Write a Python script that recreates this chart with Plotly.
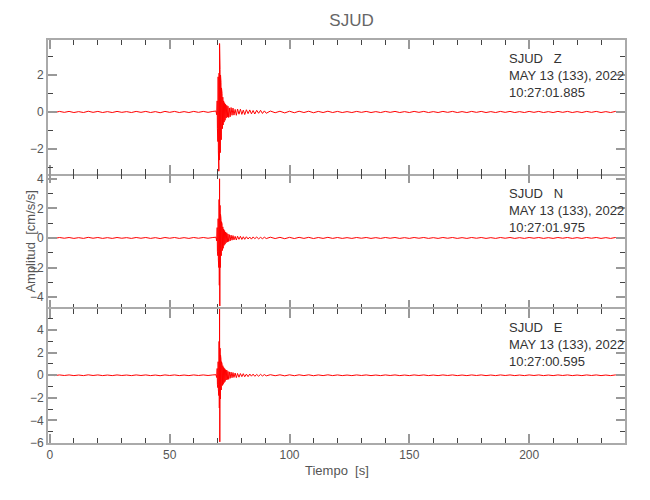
import plotly.graph_objects as go
from plotly.subplots import make_subplots

# ---- data ----
station = "SJUD"
components = ["Z", "N", "E"]
start_times = ["10:27:01.885", "10:27:01.975", "10:27:00.595"]
date_text = "MAY 13 (133), 2022"

t_pre = [0, 2, 4, 6, 8, 10, 12, 14, 16, 18, 20, 22, 24, 26, 28, 30, 32, 34,
         36, 38, 40, 42, 44, 46, 48, 50, 52, 54, 56, 58, 60, 62, 64, 66, 68]
noise_pre = [0.02, -0.03, 0.03, -0.02, 0.03, -0.03, 0.02, -0.03, 0.04, -0.02,
             0.03, -0.03, 0.02, -0.03, 0.03, -0.02, 0.02, -0.03, 0.03, -0.02,
             0.03, -0.03, 0.02, -0.04, 0.03, -0.02, 0.03, -0.03, 0.02, -0.03,
             0.03, -0.02, 0.03, -0.02, 0.03]

t_burst = [69.3, 69.6, 69.8, 69.9, 70.0, 70.1, 70.2, 70.3, 70.4, 70.5, 70.6,
           70.7, 70.8, 70.9, 71.0, 71.1, 71.2, 71.3, 71.4, 71.5, 71.6, 71.7,
           71.85, 72.0, 72.15, 72.3, 72.5, 72.7, 72.9, 73.1, 73.3, 73.55,
           73.8, 74.05, 74.3, 74.6, 74.9, 75.2, 75.6, 76.0, 76.4, 76.8, 77.3,
           77.8, 78.3, 78.9, 79.5, 80.1, 80.7, 81.3, 82.0, 82.7, 83.4, 84.1,
           84.8, 85.5, 86.3, 87.1, 87.9, 88.7, 89.5, 90.3]
z_burst = [0.05, -0.15, 0.6, -0.9, 1.4, -1.6, 1.9, -2.1, 2.0, -3.2,
           2.1, -2.6, 3.7, -2.5, 2.3, -2.2, 2.0, -1.9, 1.6, -1.5,
           1.3, -1.2, 1.0, -0.9, 0.8, -0.7, 0.6, -0.55, 0.5, -0.45,
           0.42, -0.33, 0.36, -0.28, 0.31, -0.3, 0.22, -0.26, 0.24, -0.18,
           0.21, -0.17, 0.14, -0.18, 0.16, -0.12, 0.15, -0.13, 0.1, -0.14,
           0.12, -0.09, 0.11, -0.1, 0.08, -0.11, 0.09, -0.07, 0.09, -0.08,
           0.06, -0.07]
n_burst = [0.05, -0.2, 0.7, -0.9, 1.1, -1.2, 1.3, -1.5, 1.6, -2.0,
           2.6, -3.2, 4.0, -4.6, 2.2, -2.0, 1.6, -1.5, 1.3, -1.2,
           1.1, -1.0, 0.95, -0.85, 0.75, -0.7, 0.6, -0.5, 0.5, -0.42,
           0.4, -0.32, 0.35, -0.28, 0.27, -0.24, 0.22, -0.2, 0.19, -0.15,
           0.16, -0.13, 0.11, -0.14, 0.12, -0.09, 0.11, -0.1, 0.08, -0.09,
           0.08, -0.07, 0.06, -0.08, 0.07, -0.05, 0.06, -0.06, 0.04, -0.05,
           0.05, -0.04]
e_burst = [0.05, -0.2, 0.6, -0.8, 1.0, -1.1, 1.2, -1.3, 1.5, -1.8,
           3.0, -2.9, 5.9, -5.9, 2.4, -2.1, 1.8, -1.6, 1.4, -1.3,
           1.2, -1.1, 1.0, -0.9, 0.85, -0.8, 0.7, -0.65, 0.6, -0.55,
           0.5, -0.42, 0.46, -0.38, 0.35, -0.36, 0.3, -0.27, 0.28, -0.22,
           0.24, -0.19, 0.2, -0.21, 0.16, -0.17, 0.15, -0.12, 0.14, -0.13,
           0.1, -0.12, 0.11, -0.08, 0.1, -0.09, 0.07, -0.08, 0.08, -0.06,
           0.06, -0.05]

t_post = [92, 94, 96, 98, 100, 102, 104, 106, 108, 110, 112, 114, 116, 118,
          120, 122, 124, 126, 128, 130, 132, 134, 136, 138, 140, 142, 144,
          146, 148, 150, 152, 154, 156, 158, 160, 162, 164, 166, 168, 170,
          172, 174, 176, 178, 180, 182, 184, 186, 188, 190, 192, 194, 196,
          198, 200, 202, 204, 206, 208, 210, 212, 214, 216, 218, 220, 222,
          224, 226, 228, 230, 232, 234, 236, 238, 240]
noise_post = [0.05, -0.04, 0.04, -0.05, 0.04, -0.04, 0.04, -0.03, 0.04, -0.04,
              0.03, -0.03, 0.04, -0.03, 0.03, -0.03, 0.02, -0.03, 0.03, -0.02,
              0.03, -0.03, 0.02, -0.03, 0.03, -0.02, 0.03, -0.03, 0.02, -0.03,
              0.03, -0.02, 0.03, -0.03, 0.02, -0.03, 0.03, -0.02, 0.03, -0.03,
              0.02, -0.03, 0.03, -0.02, 0.03, -0.03, 0.02, -0.03, 0.03, -0.02,
              0.03, -0.03, 0.02, -0.03, 0.03, -0.02, 0.03, -0.03, 0.02, -0.03,
              0.03, -0.02, 0.03, -0.03, 0.02, -0.03, 0.03, -0.02, 0.03, -0.03,
              0.02, -0.03, 0.03, -0.02, 0.03]

y_ranges = [[-3.37, 3.89], [-4.78, 4.3], [-6.0, 5.9]]
x_range = [-0.8, 240]
x_title = "Tiempo  [s]"
y_title = "Amplitud  [cm/s/s]"

# ---- figure ----
FONT = "Liberation Sans, Arial, sans-serif"
AX = "#aaaaaa"

bursts = [z_burst, n_burst, e_burst]
fig = make_subplots(rows=3, cols=1, shared_xaxes=True, vertical_spacing=0)
for i, b in enumerate(bursts):
    fig.add_trace(go.Scatter(x=t_pre + t_burst + t_post,
                             y=noise_pre + b + noise_post,
                             mode="lines", line=dict(color="#ff0000", width=1),
                             hoverinfo="skip"), row=i + 1, col=1)
    fig.update_yaxes(range=y_ranges[i], row=i + 1, col=1)
    fig.add_annotation(xref="x domain" if i == 0 else f"x{i+1} domain",
                       yref="y domain" if i == 0 else f"y{i+1} domain",
                       x=0.795, y=0.93, xanchor="left", yanchor="top",
                       align="left", showarrow=False,
                       text=f"{station}   {components[i]}<br>{date_text}<br>{start_times[i]}",
                       font=dict(family=FONT, size=13, color="#333333"))

common = dict(showline=True, linecolor=AX, linewidth=2, mirror="ticks",
              ticks="inside", tickcolor="#999999", tickwidth=2,
              showgrid=False, zeroline=False, automargin=False,
              tickfont=dict(family=FONT, size=12, color="#555555"))
fig.update_xaxes(range=x_range, tick0=0, dtick=50, ticklen=9,
                 minor=dict(dtick=10, ticklen=5, tickwidth=1,
                            tickcolor="#444444", ticks="inside"),
                 **common)
fig.update_yaxes(tick0=0, dtick=2, ticklen=9,
                 minor=dict(dtick=1, ticklen=5, tickwidth=1,
                            tickcolor="#444444", ticks="inside"),
                 **common)
# middle panel: no x axis line (neighbours draw the shared borders)
fig.update_xaxes(showline=False, row=2, col=1)

# the page body adds an 8px margin, so the figure is 634x484
fig.update_layout(
    width=634, height=484,
    margin=dict(l=40, r=17, t=32, b=49),
    paper_bgcolor="white", plot_bgcolor="white",
    showlegend=False,
    title=dict(text=station, x=0.526, xref="paper", xanchor="center",
               y=1 - 12 / 484, yref="container", yanchor="middle",
               font=dict(family=FONT, size=17, color="#666666")),
)
fig.add_annotation(xref="paper", yref="paper", x=0.5, y=-0.067,
                   text=x_title, showarrow=False, yanchor="middle",
                   font=dict(family=FONT, size=13, color="#555555"))
fig.add_annotation(xref="paper", yref="paper", x=-0.031, y=0.5,
                   xanchor="center", yanchor="middle", textangle=-90,
                   text=y_title, showarrow=False,
                   font=dict(family=FONT, size=13, color="#555555"))

fig.write_html("out.html")
